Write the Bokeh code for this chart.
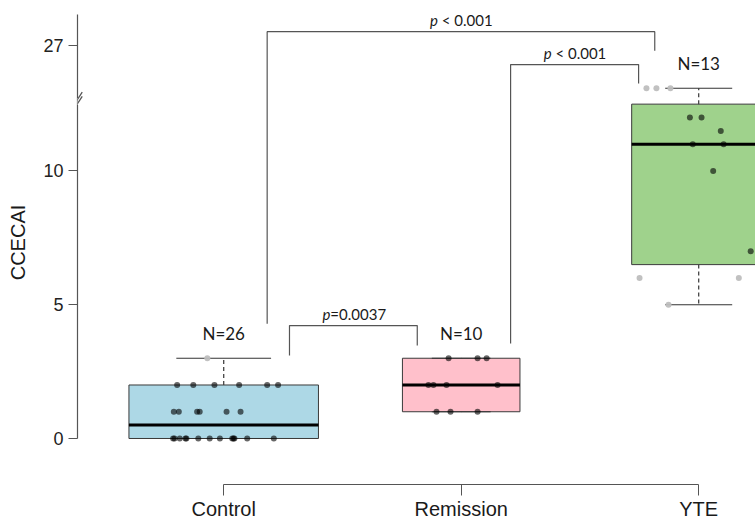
import numpy as np
from bokeh.plotting import figure
from bokeh.models import Range1d, LinearAxis, FixedTicker, Arrow, ColumnDataSource
from bokeh.core.properties import value
from bokeh.embed import file_html
from bokeh.resources import INLINE

# ---------------- data ----------------
categories = ["Control", "Remission", "YTE"]

control_values = [3, 2, 2, 2, 2, 2, 2, 1, 1, 1, 1, 1, 1,
                  0, 0, 0, 0, 0, 0, 0, 0, 0, 0, 0, 0, 0]
control_jitter = [-0.069, -0.196, -0.128, -0.039, 0.065, 0.183, 0.229,
                  -0.210, -0.189, -0.112, -0.101, 0.012, 0.071,
                  -0.213, -0.207, -0.185, -0.161, -0.157, -0.107, -0.059,
                  -0.016, 0.036, 0.041, 0.045, 0.099, 0.211]

remission_values = [3, 3, 3, 2, 2, 2, 2, 1, 1, 1]
remission_jitter = [-0.053, 0.069, 0.107, -0.138, -0.117, -0.062, 0.153,
                    -0.104, -0.045, 0.069]

yte_values = [16, 16, 16, 12, 12, 11.5, 11, 11, 10, 7, 6, 6, 5]
yte_jitter = [-0.220, -0.178, -0.119, -0.037, 0.012, 0.093, -0.025, 0.105,
              0.061, 0.219, -0.249, 0.169, -0.127]

box_lower = [0, 1, 5]
box_q1 = [0, 1, 6.5]
box_median = [0.5, 2, 11]
box_q3 = [2, 3, 12.5]
box_upper = [3, 3, 16]
box_colors = ["#ADD8E6", "#FFC0CB", "#9FD28C"]

comparison_labels = ["\u00a0< 0.001", "\u00a0< 0.001", "=0.0037"]

y_tick_values = [0, 5, 10, 27]

# ---------------- broken axis transform ----------------
BREAK = 12.6
COMPRESS = 0.1451


def disp(v):
    v = np.asarray(v, dtype=float)
    return np.where(v <= BREAK, v, BREAK + (v - BREAK) * COMPRESS)


# ---------------- layout (annotation placement, display units) ----------------
bracket_x_left = [1.183, 2.208, 1.277]
bracket_x_right = [2.815, 2.747, 1.815]
bracket_y_top = [15.21, 13.98, 4.22]
bracket_y_left = [4.29, 3.55, 3.10]
bracket_y_right = [14.50, 13.27, 3.48]
n_label_gap = 0.93
width_per_sqrt_n = 0.1565

x0, x1 = 0.3844, 3.2392
y0, y1 = -1.72, 16.374

p = figure(width=755, height=522, x_range=Range1d(x0, x1), y_range=Range1d(y0, y1),
           x_axis_type=None, y_axis_type=None, output_backend="svg",
           toolbar_location=None, min_border_left=77, min_border_right=0,
           min_border_top=0, min_border_bottom=38)
p.outline_line_color = None
p.background_fill_color = "white"

groups = [control_values, remission_values, yte_values]
jitters = [control_jitter, remission_jitter, yte_jitter]
counts = [len(g) for g in groups]
centers = np.arange(1, len(categories) + 1, dtype=float)
widths = width_per_sqrt_n * np.sqrt(counts)

# boxes
box_src = ColumnDataSource(dict(
    left=centers - widths / 2, right=centers + widths / 2,
    bottom=disp(box_q1), top=disp(box_q3), color=box_colors))
p.quad(left="left", right="right", bottom="bottom", top="top", fill_color="color",
       line_color="#3a3a3a", line_width=1, source=box_src)

# whiskers
p.segment(x0=centers, x1=centers, y0=disp(box_q3), y1=disp(box_upper),
          line_color="#444444", line_width=1.3, line_dash="4 3")
p.segment(x0=centers, x1=centers, y0=disp(box_q1), y1=disp(box_lower),
          line_color="#444444", line_width=1.3, line_dash="4 3")
p.segment(x0=centers - widths / 4, x1=centers + widths / 4, y0=disp(box_upper),
          y1=disp(box_upper), line_color="#333333", line_width=1.2)
p.segment(x0=centers - widths / 4, x1=centers + widths / 4, y0=disp(box_lower),
          y1=disp(box_lower), line_color="#333333", line_width=1.2)

# medians
p.segment(x0=centers - widths / 2, x1=centers + widths / 2, y0=disp(box_median),
          y1=disp(box_median), line_color="black", line_width=3)

# points
px, py, pc, pa = [], [], [], []
for i, (vals, jit) in enumerate(zip(groups, jitters)):
    for v, j in zip(vals, jit):
        px.append(centers[i] + j)
        py.append(float(disp(v)))
        inside = box_q1[i] <= v <= box_q3[i]
        pc.append("black" if inside else "#BEBEBE")
        pa.append(0.6 if inside else 0.95)
p.scatter(x=px, y=py, size=6, fill_color=pc, fill_alpha=pa, line_color=None)

# N labels
p.text(x=centers, y=disp(box_upper) + n_label_gap, text=[f"N={n}" for n in counts],
       text_font=value("Lato"), text_font_size="17px", text_color="#1a1a1a",
       text_align="center", text_baseline="middle")

# significance brackets
xs, ys = [], []
for xl, xr, yt, yl, yr in zip(bracket_x_left, bracket_x_right, bracket_y_top,
                              bracket_y_left, bracket_y_right):
    xs.append([xl, xl, xr, xr])
    ys.append([yl, yt, yt, yr])
p.multi_line(xs=xs, ys=ys, line_color="#555555", line_width=1.2)

mid = (np.array(bracket_x_left) + np.array(bracket_x_right)) / 2
p.text(x=mid, y=bracket_y_top, text=["p"] * len(mid), text_font=value("Lato"),
       text_font_style="italic", text_font_size="15px", text_color="#1a1a1a",
       text_align="right", text_baseline="bottom", x_offset=-23, y_offset=-3)
p.text(x=mid, y=bracket_y_top, text=comparison_labels, text_font=value("Lato"),
       text_font_size="15px", text_color="#1a1a1a",
       text_align="left", text_baseline="bottom", x_offset=-23, y_offset=-3)

# axes
y_ticks = [float(t) for t in disp(y_tick_values)]
yaxis = LinearAxis(ticker=FixedTicker(ticks=y_ticks),
                   major_label_overrides={t: str(v) for t, v in zip(y_ticks, y_tick_values)},
                   bounds=(0, 15.85), axis_label="CCECAI")
yaxis.axis_line_color = "#555555"
yaxis.axis_line_width = 1.2
yaxis.major_tick_line_color = "#555555"
yaxis.major_tick_out = 9
yaxis.major_tick_in = 0
yaxis.minor_tick_line_color = None
yaxis.major_label_text_font = "Liberation Sans"
yaxis.major_label_text_font_size = "18px"
yaxis.major_label_text_color = "#222222"
yaxis.major_label_standoff = 5
yaxis.axis_label_text_font = "Liberation Sans"
yaxis.axis_label_text_font_size = "20px"
yaxis.axis_label_text_font_style = "normal"
yaxis.axis_label_text_color = "#1a1a1a"
yaxis.axis_label_standoff = 11
p.add_layout(yaxis, "left")

xaxis = LinearAxis(ticker=FixedTicker(ticks=list(centers)),
                   major_label_overrides={float(c): n for c, n in zip(centers, categories)},
                   bounds=(1, 3))
xaxis.axis_line_color = "#555555"
xaxis.axis_line_width = 1.2
xaxis.major_tick_line_color = "#555555"
xaxis.major_tick_out = 11
xaxis.major_tick_in = 0
xaxis.minor_tick_line_color = None
xaxis.major_label_text_font = "Liberation Sans"
xaxis.major_label_text_font_size = "20px"
xaxis.major_label_text_color = "#1a1a1a"
xaxis.major_label_standoff = 2
p.add_layout(xaxis, "below")

# axis break marks
gap = Arrow(end=None, x_start=x0, y_start=BREAK - 0.13, x_end=x0, y_end=BREAK + 0.13,
            line_color="white", line_width=5)
p.add_layout(gap)
for c in (BREAK - 0.08, BREAK + 0.08):
    p.add_layout(Arrow(end=None, x_start=x0 - 0.02, y_start=c - 0.27,
                       x_end=x0 + 0.02, y_end=c + 0.27,
                       line_color="#555555", line_width=1.3))

open("out.html", "w").write(file_html(p, INLINE))
